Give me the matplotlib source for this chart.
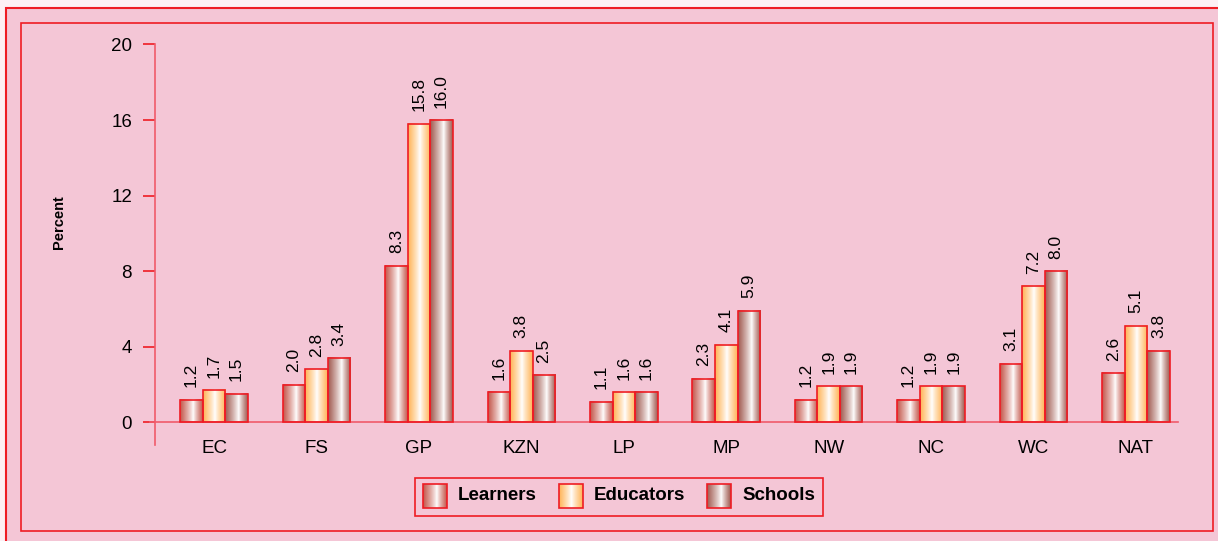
import numpy as np
import matplotlib
matplotlib.use("Agg")
import matplotlib.pyplot as plt
from matplotlib.patches import Rectangle
from matplotlib.colors import to_rgb

categories = ["EC", "FS", "GP", "KZN", "LP", "MP", "NW", "NC", "WC", "NAT"]
series_names = ["Learners", "Educators", "Schools"]
learners = [1.2, 2.0, 8.3, 1.6, 1.1, 2.3, 1.2, 1.2, 3.1, 2.6]
educators = [1.7, 2.8, 15.8, 3.8, 1.6, 4.1, 1.9, 1.9, 7.2, 5.1]
schools = [1.5, 3.4, 16.0, 2.5, 1.6, 5.9, 1.9, 1.9, 8.0, 3.8]
yticks = [0, 4, 8, 12, 16, 20]

edge_colors = ["#c4574b", "#ffb457", "#a05a50"]
highlight_pos = [0.58, 0.52, 0.60]
RED = "#ee1c24"
W, H = 1218, 541

plt.rcParams["font.family"] = ["Liberation Sans", "DejaVu Sans"]

def gradient_img(color, hp, n=64):
    u = np.linspace(0, 1, n)
    w = np.where(u < hp, (hp - u) / hp, (u - hp) / (1 - hp))
    w = np.clip(w, 0, 1) ** 0.85
    c = np.array(to_rgb(color))
    row = (1 - w)[:, None] * np.ones(3) + w[:, None] * c
    return row[None, :, :]

fig = plt.figure(figsize=(W / 100, H / 100), dpi=100)
fig.patch.set_facecolor("#fdf0f4")

# background overlay in pixel coordinates
bg = fig.add_axes([0, 0, 1, 1], zorder=-1)
bg.set_xlim(0, W)
bg.set_ylim(H, 0)
bg.axis("off")
bg.add_patch(Rectangle((6, 8), 1230, 560, facecolor="#f4c6d6", edgecolor=RED, lw=1.5))
bg.add_patch(Rectangle((21, 23), 1192, 508, facecolor="none", edgecolor=RED, lw=1.2))

# legend (manual, pixel coords)
bg.add_patch(Rectangle((415, 478), 408, 38, facecolor="none", edgecolor=RED, lw=1.2, zorder=3))
sw_x = [423, 559, 707]
for i, name in enumerate(series_names):
    x0 = sw_x[i]
    bg.imshow(gradient_img(edge_colors[i], highlight_pos[i]), extent=[x0, x0 + 24, 508, 484],
              aspect="auto", interpolation="bilinear", zorder=2)
    bg.add_patch(Rectangle((x0, 484), 24, 24, facecolor="none", edgecolor=RED, lw=1.2, zorder=3))
    bg.text(x0 + 35, 496, name, fontsize=13.5, fontweight="bold", va="center", ha="left")
bg.set_xlim(0, W)
bg.set_ylim(H, 0)

# main axes
ax = fig.add_axes([150 / W, (H - 445) / H, 1028 / W, (445 - 44.5) / H])
ax.set_facecolor("none")
n = len(categories)
x = np.arange(n)
bw = 0.22
offsets = [-bw, 0, bw]
for s, vals in enumerate([learners, educators, schools]):
    img = gradient_img(edge_colors[s], highlight_pos[s])
    for i, v in enumerate(vals):
        x0 = x[i] + offsets[s] - bw / 2
        ax.imshow(img, extent=[x0, x0 + bw, 0, v], aspect="auto",
                  interpolation="bilinear", zorder=2)
        ax.add_patch(Rectangle((x0, 0), bw, v, facecolor="none", edgecolor=RED, lw=1.2, zorder=3))
        ax.annotate(f"{v:.1f}", (x[i] + offsets[s], v), xytext=(0, 9), textcoords="offset points",
                    rotation=90, ha="center", va="bottom", fontsize=12.5)

ax.set_xlim(-0.625, 9.41)
ax.set_ylim(-1.2, 20)
ax.set_aspect("auto")
ax.spines["top"].set_visible(False)
ax.spines["right"].set_visible(False)
ax.spines["bottom"].set_position(("data", 0))
ax.spines["left"].set_position(("data", -0.576))
ax.spines["left"].set_bounds(-1.2, 20)
for sp in ["left", "bottom"]:
    ax.spines[sp].set_color("#f05a6a")
    ax.spines[sp].set_linewidth(1.2)
ax.set_yticks(yticks)
ax.set_yticklabels([str(t) for t in yticks], fontsize=13.5)
ax.tick_params(axis="y", length=8.5, width=1.2, color=RED, pad=8)
ax.set_xticks(x)
ax.set_xticklabels(categories, fontsize=13.5)
ax.tick_params(axis="x", length=0, pad=12.5)
fig.text(59 / W, (H - 222) / H, "Percent", rotation=90, fontsize=10.5, fontweight="bold",
         ha="center", va="center")

fig.savefig("out.png", dpi=100, facecolor=fig.get_facecolor())
